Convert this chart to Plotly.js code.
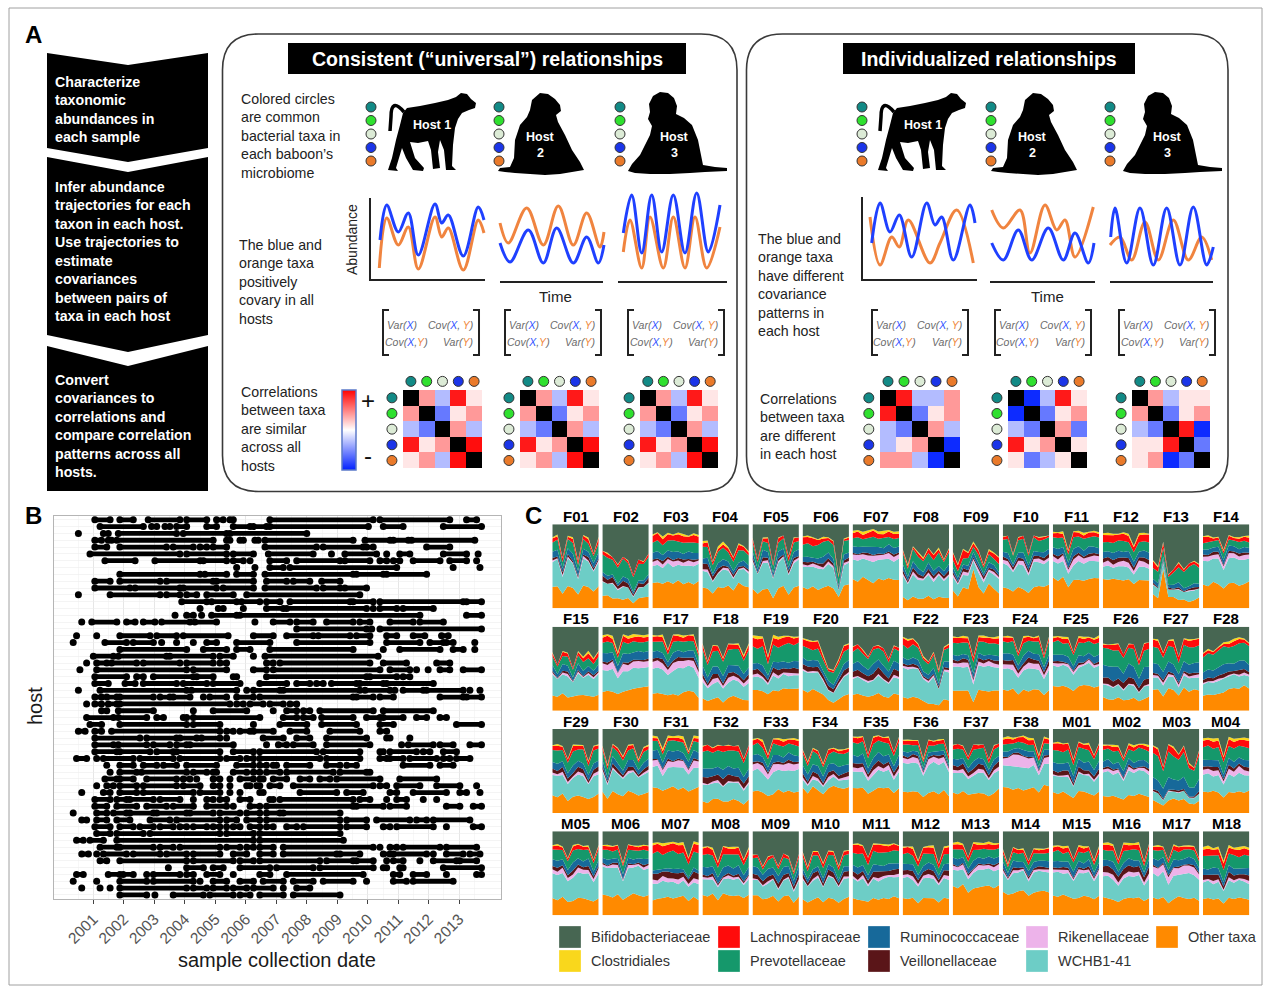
<!DOCTYPE html>
<html><head><meta charset="utf-8">
<script src="https://cdn.plot.ly/plotly-3.0.1.min.js"></script>
<style>body{margin:0;padding:0;background:#fff;}#chart{width:1263px;height:986px;}</style>
</head><body><div id="chart"></div>
<script>
const W = 1263, H = 986;
const FONT = '"Liberation Sans", Arial, Helvetica, sans-serif';
const fx = x => x / W;
const fy = y => 1 - y / H;

/* ================= PANEL B DATA: sampling runs per host (decimal years) ================= */
const yearTicks = [2001,2002,2003,2004,2005,2006,2007,2008,2009,2010,2011,2012,2013];
const hostRows = [
[[2001.05,2001.55],[2001.87,2002.31],[2002.80,2003.84],[2004.06,2004.72],[2005.04,2005.26],[2005.48,2005.59],[2006.79,2010.18],[2010.40,2012.69],[2013.24,2013.57]],
[[2001.22,2002.64],[2002.91,2003.08],[2003.35,2003.51],[2003.73,2004.06],[2004.72,2005.04],[2005.59,2006.14],[2006.25,2006.68],[2006.79,2010.02],[2010.51,2011.16],[2012.48,2013.73]],
[[2000.51,2000.51],[2001.33,2001.49],[2001.82,2003.73],[2003.95,2005.37],[2005.48,2008.0]],
[[2001.05,2001.27],[2001.49,2001.60],[2001.77,2004.93],[2005.37,2005.48],[2005.81,2005.92],[2006.30,2006.41],[2006.63,2009.52],[2009.91,2010.73],[2010.84,2011.33],[2011.44,2013.51]],
[[2001.05,2001.44],[2001.87,2003.40],[2003.62,2004.28],[2004.50,2004.72],[2004.93,2005.37],[2006.63,2008.32],[2008.54,2009.85],[2009.96,2010.18],[2011.93,2012.69]],
[[2000.89,2003.84],[2004.06,2005.37],[2005.59,2006.25],[2006.74,2008.21],[2008.81,2008.81],[2009.25,2010.29],[2010.62,2010.62],[2011.05,2011.38],[2012.48,2013.24],[2013.62,2013.62]],
[[2001.38,2002.37],[2003.02,2004.50],[2004.61,2005.37],[2005.59,2005.92],[2006.14,2006.14],[2006.79,2007.34],[2007.67,2009.09],[2009.25,2010.07],[2010.40,2010.62],[2010.84,2011.05],[2011.49,2012.37],[2012.69,2013.24],[2013.57,2013.57]],
[[2005.70,2005.70],[2006.30,2006.30],[2006.79,2007.23],[2007.45,2010.95],[2012.80,2012.80],[2013.68,2013.68]],
[[2001.87,2004.50],[2004.66,2005.37],[2005.70,2006.25],[2006.63,2009.52],[2009.63,2010.51],[2010.62,2011.93]],
[[2001.05,2001.55],[2001.87,2003.19],[2003.40,2004.93],[2005.04,2006.25],[2006.68,2007.34],[2007.56,2008.10],[2008.49,2009.09]],
[[2001.05,2002.20],[2002.37,2003.84],[2003.95,2005.04],[2005.26,2006.25],[2006.63,2008.32],[2008.54,2009.09],[2009.25,2009.96]],
[[2000.51,2000.51],[2001.55,2003.19],[2003.40,2003.84],[2004.06,2004.39],[2004.72,2005.59],[2006.03,2009.74]],
[[2003.90,2004.72],[2004.88,2005.70],[2005.86,2006.46],[2006.68,2007.12],[2007.45,2009.42],[2009.52,2010.18],[2010.40,2013.13],[2013.24,2013.73]],
[[2004.50,2004.50],[2005.10,2005.26],[2005.92,2005.92],[2006.68,2007.23],[2007.34,2009.96],[2010.18,2010.18],[2010.40,2010.95],[2011.16,2012.15]],
[[2003.68,2003.68],[2004.06,2004.28],[2004.55,2004.55],[2004.88,2005.70],[2005.81,2011.71],[2013.24,2013.73]],
[[2000.62,2000.62],[2000.95,2001.77],[2002.09,2002.37],[2002.64,2003.02],[2003.24,2004.17],[2004.33,2005.04],[2006.30,2006.30],[2006.90,2007.45],[2007.67,2008.21],[2008.65,2009.52],[2009.74,2010.07],[2010.73,2011.49],[2011.71,2012.48]],
[[2007.67,2009.96],[2010.13,2010.13],[2010.40,2013.73]],
[[2000.45,2000.45],[2001.11,2001.11],[2001.87,2002.86],[2003.08,2003.73],[2003.95,2005.42],[2006.25,2006.90],[2007.34,2008.21],[2008.38,2009.42],[2009.63,2010.07],[2010.62,2010.95],[2011.49,2011.87],[2012.42,2012.64]],
[[2000.34,2000.34],[2001.38,2002.09],[2002.31,2002.97],[2003.24,2003.24],[2003.73,2003.73],[2004.28,2004.28],[2004.72,2005.04],[2005.70,2006.79],[2007.67,2010.07],[2010.62,2011.71],[2012.04,2012.48],[2012.58,2012.80],[2013.51,2013.51]],
[[2001.87,2004.06],[2004.61,2005.37],[2005.70,2006.14],[2006.79,2009.52],[2010.51,2010.51],[2011.05,2012.37],[2012.80,2013.13],[2013.51,2013.51]],
[[2001.0,2001.66],[2001.82,2003.40],[2003.51,2004.93],[2005.15,2005.59],[2006.25,2006.25],[2006.63,2010.34]],
[[2000.78,2000.78],[2001.11,2001.44],[2001.60,2002.42],[2002.64,2003.84],[2004.06,2004.93],[2005.15,2005.37],[2006.68,2006.90],[2007.12,2010.07],[2010.51,2011.27],[2012.26,2012.69]],
[[2000.56,2000.56],[2001.11,2004.06],[2004.28,2005.37],[2006.25,2006.68],[2006.90,2010.40],[2010.73,2011.38],[2011.60,2011.60],[2011.98,2011.98],[2012.37,2012.69],[2013.13,2013.73]],
[[2001.05,2002.09],[2002.42,2002.64],[2002.97,2004.28],[2004.39,2004.93],[2005.59,2005.70],[2006.68,2009.96],[2010.07,2010.95],[2011.16,2011.38]],
[[2001.05,2001.49],[2002.04,2002.37],[2002.64,2003.73],[2003.95,2004.72],[2004.93,2005.81],[2006.46,2007.34],[2007.67,2008.10],[2008.32,2008.54],[2008.81,2009.63],[2009.74,2010.51],[2010.62,2012.15]],
[[2000.51,2000.51],[2001.22,2004.06],[2004.22,2005.70],[2006.03,2006.03],[2006.25,2007.12],[2007.23,2009.74],[2009.91,2010.73],[2010.89,2010.89],[2011.16,2011.82],[2011.93,2013.13],[2013.35,2013.35],[2013.68,2013.68]],
[[2001.05,2001.27],[2001.44,2001.77],[2001.87,2002.97],[2003.19,2003.51],[2003.62,2004.17],[2004.61,2004.61],[2004.82,2005.37],[2005.70,2006.25],[2006.46,2009.52],[2009.63,2010.18],[2010.40,2010.84],[2012.37,2013.13],[2013.24,2013.73]],
[[2000.78,2000.78],[2001.05,2001.27],[2001.49,2001.77],[2001.87,2005.48],[2005.70,2005.92],[2006.14,2006.57],[2006.79,2007.23],[2007.45,2007.67]],
[[2001.27,2001.44],[2001.82,2002.97],[2004.28,2004.28],[2004.93,2006.03],[2006.90,2006.90],[2007.34,2007.67],[2007.89,2008.10],[2008.43,2010.18],[2010.51,2012.15]],
[[2000.78,2001.66],[2001.82,2002.75],[2003.08,2003.30],[2003.95,2004.06],[2004.28,2006.46],[2007.23,2007.67],[2007.89,2008.21],[2008.49,2009.52],[2009.96,2010.40],[2010.51,2011.16],[2011.60,2011.93],[2012.37,2012.58]],
[[2000.89,2001.27],[2001.87,2004.06],[2004.28,2005.15],[2006.25,2006.25],[2007.12,2008.0],[2008.49,2009.63],[2010.40,2010.84],[2012.91,2013.73]],
[[2000.51,2000.73],[2001.05,2001.27],[2001.60,2005.15],[2005.37,2005.59],[2005.81,2006.14],[2006.25,2006.90],[2007.45,2008.0],[2008.76,2009.74],[2010.40,2010.62]],
[[2001.05,2002.53],[2002.75,2003.73],[2003.84,2004.39],[2004.55,2005.15],[2005.37,2005.37],[2006.57,2007.23],[2007.67,2008.10],[2008.65,2009.96],[2010.62,2010.73],[2011.38,2011.38]],
[[2001.05,2001.66],[2001.82,2002.75],[2002.97,2003.51],[2003.73,2004.06],[2004.17,2005.59],[2006.68,2006.68],[2007.07,2007.34],[2007.56,2008.21],[2008.65,2010.07],[2011.11,2011.11],[2011.33,2012.15],[2012.37,2012.80],[2013.35,2013.73]],
[[2001.05,2001.77],[2001.87,2002.86],[2003.08,2003.62],[2003.73,2005.15],[2005.59,2006.25],[2006.46,2008.32],[2008.54,2009.74],[2010.40,2010.51],[2010.73,2011.60],[2011.82,2012.04],[2012.48,2012.91]],
[[2000.45,2000.78],[2001.11,2001.11],[2001.33,2002.31],[2002.53,2003.62],[2003.84,2005.15],[2005.37,2005.81],[2006.03,2006.25],[2006.46,2008.43],[2008.65,2009.74],[2010.40,2010.62],[2010.73,2011.16],[2011.38,2012.26],[2012.48,2012.69],[2012.91,2013.35]],
[[2001.44,2001.44],[2001.87,2002.31],[2002.64,2003.08],[2003.30,2003.73],[2004.06,2005.04],[2005.70,2006.25],[2006.46,2006.68],[2006.90,2007.01],[2007.34,2008.10],[2008.65,2009.09],[2009.31,2009.63],[2011.16,2012.04],[2012.37,2012.80]],
[[2001.55,2001.55],[2001.87,2002.42],[2002.58,2004.06],[2004.28,2004.72],[2004.93,2005.04],[2005.59,2006.03],[2006.25,2006.46],[2006.68,2007.12],[2007.34,2008.87],[2009.09,2009.96],[2010.07,2010.07]],
[[2001.38,2001.77],[2001.87,2002.31],[2002.75,2003.73],[2003.95,2004.17],[2004.39,2004.39],[2004.93,2005.15],[2005.48,2005.48],[2005.81,2006.25],[2006.46,2006.57],[2006.90,2007.34],[2007.78,2008.10],[2008.43,2008.76],[2008.98,2010.40],[2011.05,2012.26]],
[[2001.11,2001.11],[2001.44,2001.66],[2001.87,2002.42],[2002.64,2003.73],[2003.95,2004.50],[2004.93,2005.15],[2005.48,2005.48],[2006.03,2006.14],[2006.36,2006.46],[2006.79,2007.12],[2007.56,2010.18],[2010.40,2010.62],[2010.95,2011.71],[2012.26,2013.02],[2013.57,2013.57]],
[[2000.62,2000.62],[2001.33,2001.55],[2001.87,2002.42],[2002.64,2004.28],[2004.50,2005.15],[2005.48,2005.48],[2005.81,2005.81],[2006.46,2006.57],[2007.78,2008.98],[2009.31,2009.85],[2010.73,2010.95],[2011.49,2012.58],[2013.02,2013.24],[2013.68,2013.68]],
[[2001.05,2001.55],[2001.77,2002.09],[2002.20,2002.97],[2003.19,2003.84],[2004.28,2004.28],[2004.72,2004.93],[2005.15,2005.37],[2005.81,2006.14],[2006.79,2006.90],[2007.12,2009.52],[2009.74,2010.07],[2010.62,2010.62],[2010.95,2011.27],[2011.82,2011.82],[2012.26,2012.26]],
[[2001.05,2001.44],[2001.77,2002.42],[2002.75,2003.40],[2003.62,2004.28],[2004.72,2005.37],[2005.59,2005.59],[2006.14,2006.46],[2006.68,2009.52],[2009.63,2010.51],[2010.73,2011.27],[2012.58,2013.02],[2013.46,2013.73]],
[[2000.34,2000.34],[2001.11,2001.44],[2001.66,2002.09],[2002.20,2002.97],[2003.08,2004.06],[2004.17,2004.93],[2005.15,2005.81],[2006.03,2006.46],[2006.68,2007.12],[2007.23,2009.09]],
[[2000.62,2000.78],[2001.11,2001.44],[2001.77,2002.20],[2002.86,2003.51],[2003.73,2005.15],[2005.37,2005.70],[2006.03,2006.46],[2006.68,2009.09],[2009.31,2009.96],[2010.29,2011.38],[2011.60,2011.93],[2012.15,2013.35]],
[[2001.05,2001.55],[2001.87,2002.31],[2002.53,2002.97],[2003.19,2003.62],[2003.84,2004.06],[2004.28,2004.72],[2004.93,2005.15],[2005.37,2005.37],[2005.59,2005.81],[2006.14,2006.46],[2006.68,2006.90],[2007.34,2007.67],[2007.89,2009.09],[2009.31,2009.96],[2010.51,2010.73],[2010.95,2012.15],[2012.58,2012.58],[2013.46,2013.73]],
[[2001.11,2001.55],[2001.77,2002.64],[2002.86,2005.15],[2005.37,2006.25],[2006.46,2009.09]],
[[2000.45,2000.67],[2000.89,2001.33],[2001.77,2006.25],[2006.46,2009.20]],
[[2001.22,2001.77],[2001.87,2002.97],[2003.19,2003.62],[2003.84,2005.15],[2005.37,2005.81],[2006.03,2006.25],[2006.46,2006.90],[2007.23,2010.18],[2010.40,2010.40],[2010.73,2010.95],[2011.16,2012.37],[2012.58,2013.57]],
[[2000.62,2000.84],[2001.11,2001.11],[2001.33,2002.09],[2002.31,2003.19],[2003.40,2004.06],[2004.28,2005.15],[2005.59,2006.03],[2006.46,2006.90],[2007.23,2008.98],[2009.09,2009.74],[2010.51,2010.73],[2010.84,2011.93],[2012.15,2012.15],[2012.58,2013.13],[2013.35,2013.68]],
[[2001.22,2001.44],[2001.87,2004.06],[2004.28,2005.59],[2005.81,2006.25],[2006.46,2008.43],[2008.65,2009.52],[2009.63,2010.18],[2010.62,2010.62],[2010.84,2011.16],[2011.71,2011.71],[2012.15,2012.91],[2013.02,2013.57]],
[[2003.46,2003.46],[2004.06,2004.61],[2004.93,2005.26],[2005.81,2006.79],[2007.01,2008.21],[2008.43,2010.18],[2010.51,2010.62],[2011.05,2011.16],[2012.48,2013.73]],
[[2000.45,2000.67],[2001.49,2001.87],[2001.98,2002.31],[2002.75,2002.75],[2002.97,2003.84],[2004.06,2004.28],[2004.72,2005.15],[2005.59,2005.59],[2006.46,2006.79],[2007.34,2009.85],[2010.84,2011.05],[2011.49,2011.93],[2012.58,2012.58],[2013.57,2013.73]],
[[2000.34,2000.34],[2001.11,2001.11],[2001.87,2002.75],[2002.97,2004.28],[2004.50,2004.50],[2004.93,2005.37],[2005.81,2006.25],[2006.57,2007.23],[2007.56,2008.21],[2008.54,2009.52],[2009.96,2009.96],[2010.84,2011.27],[2011.49,2012.80]],
[[2000.62,2000.62],[2001.22,2001.22],[2001.55,2001.55],[2001.87,2004.06],[2004.28,2004.72],[2004.93,2005.37],[2005.59,2006.03],[2006.25,2006.90],[2007.23,2007.23],[2007.67,2008.10]],
[[2001.87,2002.75],[2003.02,2003.02],[2003.62,2004.61],[2004.82,2005.59],[2005.81,2006.14],[2006.46,2007.23],[2007.56,2009.09]]
];

/* ================= PANEL C DATA: relative abundances (10 samples per host) ================= */
const hostNames = ['F01','F02','F03','F04','F05','F06','F07','F08','F09','F10','F11','F12','F13','F14',
'F15','F16','F17','F18','F19','F20','F21','F22','F23','F24','F25','F26','F27','F28',
'F29','F30','F31','F32','F33','F34','F35','F36','F37','F38','M01','M02','M03','M04',
'M05','M06','M07','M08','M09','M10','M11','M12','M13','M14','M15','M16','M17','M18'];
const sampleIndex = [0,1,2,3,4,5,6,7,8,9];
const taxaNames = ['Other taxa','WCHB1-41','Rikenellaceae','Veillonellaceae','Ruminococcaceae','Prevotellaceae','Lachnospiraceae','Clostridiales','Bifidobacteriaceae'];
const taxaColors = ['#ff8a00','#6dcdc6','#edb3ea','#5a1518','#17699a','#15986b','#ff0b0b','#f9d71c','#476652'];

const otherTaxa = [
[24,26,22,27,25,23,28,24,26,25],[14,16,12,15,10,13,8,12,15,14],[30,33,28,35,31,34,30,32,29,33],[25,22,28,24,26,30,27,33,29,31],
[22,25,20,24,18,23,26,21,24,27],[26,24,27,22,25,28,24,20,27,29],[36,33,38,35,32,37,34,38,35,33],[14,12,15,11,13,16,12,14,15,13],
[20,18,24,22,45,25,20,28,22,18],[26,24,28,27,25,24,26,28,27,30],[38,34,36,33,37,35,32,36,38,34],[36,34,38,33,35,37,34,36,33,35],
[16,12,45,18,14,10,12,8,10,14],[30,28,32,29,31,33,30,28,31,34],
[18,22,20,16,24,19,21,17,22,20],[22,24,23,26,25,24,27,28,30,29],[20,22,19,24,21,18,23,25,22,20],[15,17,14,18,13,16,20,15,17,14],
[24,26,22,28,25,23,27,24,26,25],[22,20,24,21,23,18,12,14,16,18],[20,22,18,21,19,23,17,20,22,19],[16,14,18,15,13,12,8,10,14,12],
[25,27,24,26,14,28,25,24,27,26],[26,24,28,25,27,23,26,28,25,24],[30,28,32,27,31,29,33,30,28,31],[16,14,12,17,15,13,16,14,15,18],
[26,24,22,27,25,23,28,24,26,25],[20,22,18,21,23,26,28,25,30,27],
[22,20,24,18,21,23,19,22,20,24],[26,24,27,22,25,28,24,26,23,27],[32,30,34,31,33,29,32,34,30,33],[14,12,16,18,15,14,17,15,13,16],
[26,28,25,27,24,29,26,28,25,27],[32,30,34,28,33,31,35,32,30,33],[30,32,29,31,28,33,30,32,31,29],[26,24,28,25,27,23,26,24,28,25],
[26,24,28,30,25,27,24,28,26,32],[30,32,29,33,31,30,28,32,34,31],[26,24,27,23,25,28,26,24,27,25],[22,20,23,19,21,24,22,26,23,21],
[16,14,12,15,18,20,17,14,16,15],[26,24,28,25,23,27,25,26,24,28],
[21,19,22,20,18,23,21,19,22,20],[26,24,22,27,25,23,28,24,22,26],[18,20,22,24,21,23,26,22,24,20],[26,24,28,25,30,27,24,26,28,25],
[26,24,28,22,25,20,24,26,22,25],[20,22,19,24,21,23,20,22,21,24],[22,20,18,21,23,19,22,20,24,21],[22,20,23,19,21,24,22,20,23,21],
[36,34,38,35,33,37,35,38,34,36],[30,32,29,31,33,30,28,32,31,30],[26,24,28,25,27,23,26,24,28,25],[22,20,18,21,19,23,20,22,24,21],
[22,20,23,19,21,24,22,20,23,21],[20,22,19,21,18,23,20,22,21,19]];

const wchb141 = [
[28,32,25,34,30,26,33,29,31,27],[16,14,18,12,15,13,10,12,14,16],[20,22,18,24,21,19,23,20,22,21],[20,18,22,15,24,20,18,16,22,20],
[30,34,28,32,35,29,33,31,28,32],[25,28,24,26,22,27,25,12,24,26],[24,26,22,25,27,23,26,24,22,25],[26,24,28,22,25,27,23,26,24,28],
[15,18,14,16,10,17,15,14,16,18],[30,28,33,29,31,27,32,30,28,31],[20,22,18,21,19,23,20,22,21,19],[15,17,14,16,18,15,13,17,16,15],
[10,12,8,11,9,12,10,14,12,11],[30,32,28,31,29,33,30,32,31,29],
[25,28,22,26,24,27,23,25,28,26],[26,24,28,25,27,22,26,24,25,23],[30,32,28,31,29,33,30,32,28,31],[20,22,18,21,23,19,22,20,21,23],
[15,17,14,16,18,15,17,14,16,15],[20,22,18,21,19,16,14,18,20,22],[20,22,18,21,19,23,20,22,21,19],[35,33,37,34,30,36,32,30,35,33],
[30,32,28,31,29,33,30,32,31,29],[25,27,23,26,24,28,25,27,26,24],[25,23,27,24,26,22,25,27,24,26],[15,17,13,16,14,18,15,13,16,14],
[15,13,17,14,16,12,15,17,14,16],[15,17,14,16,18,15,17,14,12,15],
[25,27,23,26,24,28,25,23,26,24],[25,23,27,24,26,22,25,27,24,26],[25,27,23,26,24,28,25,27,26,24],[20,22,18,21,19,23,20,22,21,19],
[25,27,23,26,28,24,27,25,26,28],[10,12,9,11,13,10,12,9,11,10],[20,22,18,21,19,23,20,22,21,19],[35,33,37,34,36,32,35,37,34,36],
[25,27,23,26,24,28,25,27,26,24],[25,27,30,28,32,26,24,27,25,26],[20,22,18,21,19,23,20,22,21,19],[30,32,28,31,29,33,30,32,31,29],
[10,12,8,11,9,12,10,8,11,9],[20,22,18,21,19,23,20,22,21,19],
[30,32,28,31,29,33,30,32,31,29],[35,33,37,34,30,36,33,35,32,34],[20,18,22,19,21,17,20,22,19,21],[20,22,18,21,19,23,20,22,21,19],
[20,18,22,19,21,17,20,22,19,21],[25,27,23,26,24,28,25,27,26,24],[25,23,27,24,26,22,25,27,24,26],[25,27,23,26,24,28,25,27,26,24],
[20,22,18,21,19,23,20,22,21,19],[25,23,27,24,26,22,25,27,24,26],[30,32,28,31,29,33,30,32,31,29],[25,27,23,26,24,28,25,27,26,24],
[30,28,32,29,31,27,30,32,29,31],[20,22,18,21,19,23,20,22,21,19]];

const rikenellaceae = [
[2,1,3,2,1,2,3,1,2,2],[1,0,1,2,1,0,1,1,0,1],[5,6,4,5,7,5,4,6,5,4],[2,3,2,1,2,3,2,1,2,3],
[2,1,2,3,1,2,1,2,3,2],[3,2,4,3,2,3,2,1,3,2],[6,7,5,6,8,6,5,7,6,5],[3,2,4,3,2,3,4,2,3,2],
[3,2,4,3,2,3,4,2,3,2],[4,5,3,4,6,4,3,5,4,3],[6,5,7,6,8,7,6,5,7,6],[5,6,4,5,7,6,5,8,6,5],
[1,0,1,1,0,1,0,1,1,0],[5,6,4,5,6,7,5,4,6,5],
[2,1,2,3,1,2,1,2,3,2],[8,7,9,8,10,7,8,9,8,7],[8,9,7,8,10,8,9,7,8,9],[5,4,6,5,4,6,5,4,5,6],
[3,4,2,3,4,3,2,4,3,2],[2,1,2,1,2,1,1,2,1,2],[2,1,2,3,1,2,1,2,3,2],[2,3,2,1,2,3,2,1,2,3],
[5,4,6,5,7,5,4,6,5,4],[6,5,7,6,5,7,6,8,6,5],[3,4,2,3,4,3,2,4,3,2],[1,2,1,1,2,1,2,1,1,2],
[3,2,4,3,2,4,3,2,3,4],[2,1,2,3,1,2,1,2,3,2],
[3,2,4,3,2,4,3,2,3,4],[2,3,2,1,2,3,2,1,2,3],[8,7,9,8,6,9,8,7,9,8],[2,1,2,3,1,2,1,2,3,2],
[8,7,9,8,10,7,8,9,8,7],[3,2,4,3,2,4,3,2,3,4],[5,4,6,5,7,5,4,6,5,4],[6,5,7,6,5,7,6,8,6,5],
[4,3,5,4,3,5,4,3,4,5],[8,10,14,16,15,12,8,6,7,8],[2,1,2,3,1,2,1,2,3,2],[4,3,5,4,3,5,4,3,4,5],
[1,0,1,1,0,1,0,1,1,0],[6,5,7,6,5,7,6,8,6,5],
[5,4,6,5,4,6,5,4,5,6],[3,2,4,3,2,4,3,2,3,4],[5,4,6,5,4,6,5,4,5,6],[3,2,4,3,2,4,3,2,3,4],
[2,1,2,3,1,2,1,2,3,2],[2,1,2,3,1,2,1,2,3,2],[3,2,4,3,2,4,3,2,3,4],[4,3,5,4,3,5,4,3,4,5],
[5,4,6,5,4,6,5,4,5,6],[3,2,4,3,2,4,3,2,3,4],[4,3,5,4,3,5,4,3,4,5],[5,4,6,5,4,6,5,4,5,6],
[8,10,9,12,10,8,11,9,10,8],[3,2,4,3,2,4,3,2,3,4]];

const veillonellaceae = [
[3,2,4,3,2,3,2,4,3,2],[6,5,7,4,6,5,3,5,4,6],[3,2,4,3,2,3,4,2,3,2],[7,6,8,5,3,2,4,3,2,3],
[3,2,4,3,2,3,2,4,3,2],[3,4,2,3,5,4,3,2,3,4],[2,1,2,3,1,2,1,2,3,2],[4,3,5,4,3,5,4,3,4,5],
[3,2,4,3,2,3,4,2,3,2],[4,3,5,4,3,5,4,3,4,5],[3,4,2,3,4,3,2,4,3,2],[5,4,6,5,4,6,5,4,5,6],
[2,1,2,3,1,2,1,2,3,2],[3,2,4,3,2,3,2,4,3,2],
[2,1,2,3,1,2,1,2,3,2],[2,3,2,1,2,3,2,1,2,3],[4,3,5,4,3,5,4,3,4,5],[5,4,6,5,4,6,5,4,5,6],
[5,6,4,5,6,7,5,4,6,5],[5,6,4,5,6,7,5,4,6,5],[7,8,6,7,8,9,7,6,8,7],[3,2,4,3,2,3,2,4,3,2],
[4,3,5,4,3,5,4,3,4,5],[5,4,6,5,4,6,5,4,5,6],[2,3,2,1,2,3,2,1,2,3],[7,8,6,7,9,8,7,6,8,7],
[3,2,4,3,2,3,2,4,3,2],[4,5,3,4,5,4,3,5,4,3],
[5,4,6,5,4,6,5,4,5,6],[4,3,5,4,3,5,4,3,4,5],[2,1,2,3,1,2,1,2,3,2],[7,8,6,7,9,8,7,6,8,7],
[3,2,4,3,2,3,2,4,3,2],[5,4,6,5,4,6,5,4,5,6],[5,6,4,5,6,7,5,4,6,5],[3,2,4,3,2,3,2,4,3,2],
[6,5,7,6,5,7,6,5,6,7],[2,1,2,3,1,2,1,2,3,2],[5,4,6,5,4,6,5,4,5,6],[2,3,2,1,2,3,2,1,2,3],
[2,3,2,1,2,3,2,1,2,3],[4,3,5,4,3,5,4,3,4,5],
[4,5,3,4,5,4,3,5,4,3],[2,1,2,3,1,2,1,2,3,2],[7,8,6,9,7,8,6,7,9,8],[3,2,4,3,2,3,2,4,3,2],
[6,5,7,6,5,7,6,5,6,7],[6,5,7,6,5,7,6,5,6,7],[6,7,5,6,7,8,6,5,7,6],[6,5,7,6,5,7,6,5,6,7],
[2,1,2,3,1,2,1,2,3,2],[3,2,4,3,2,3,2,4,3,2],[3,2,4,3,2,3,2,4,3,2],[7,8,6,9,7,8,6,7,9,8],
[2,1,2,3,1,2,1,2,3,2],[6,5,7,6,5,7,6,5,6,7]];

const ruminococcaceae = [
[7,8,6,7,9,8,7,6,8,7],[4,5,3,4,5,6,4,3,5,4],[8,9,7,8,10,8,7,9,8,7],[6,7,5,6,8,7,6,5,7,6],
[7,6,8,7,6,8,7,6,7,8],[6,7,5,6,8,7,6,5,7,6],[8,9,7,8,10,8,7,9,8,7],[7,6,8,7,6,8,7,6,7,8],
[5,6,4,5,6,5,4,6,5,4],[6,7,5,6,8,7,6,5,7,6],[8,9,7,8,10,8,7,9,8,7],[8,7,9,8,7,9,8,7,8,9],
[4,5,3,4,5,6,4,3,5,4],[6,7,5,6,8,7,6,5,7,6],
[7,6,8,7,6,8,7,6,7,8],[10,11,9,10,12,10,9,11,10,9],[8,9,7,8,10,8,7,9,8,7],[10,11,9,10,12,10,9,11,10,9],
[8,7,9,8,7,9,8,7,8,9],[7,6,8,7,6,8,7,6,7,8],[10,11,9,10,12,10,9,11,10,9],[7,6,8,7,6,8,7,6,7,8],
[6,7,5,6,8,7,6,5,7,6],[8,9,7,8,10,8,7,9,8,7],[8,7,9,8,7,9,8,7,8,9],[15,14,16,15,13,16,15,14,16,15],
[12,11,13,12,11,13,12,11,12,13],[10,11,9,10,12,10,9,11,10,9],
[8,9,7,8,10,8,7,9,8,7],[8,7,9,8,7,9,8,7,8,9],[10,11,9,10,12,10,9,11,10,9],[10,11,9,10,12,10,9,11,10,9],
[8,9,7,8,10,8,7,9,8,7],[10,11,9,10,12,10,9,11,10,9],[10,9,11,10,9,11,10,9,10,11],[5,6,4,5,6,5,4,6,5,4],
[8,9,7,8,10,8,7,9,8,7],[6,7,5,6,8,7,6,5,7,6],[10,11,9,10,12,10,9,11,10,9],[8,9,7,8,10,8,7,9,8,7],
[15,14,16,15,13,16,15,14,16,15],[8,7,9,8,7,9,8,7,8,9],
[8,9,7,8,10,8,7,9,8,7],[6,7,5,6,8,7,6,5,7,6],[4,5,3,4,5,6,4,3,5,4],[10,11,9,10,12,10,9,11,10,9],
[10,9,11,10,9,11,10,9,10,11],[6,7,5,6,8,7,6,5,7,6],[8,9,7,8,10,8,7,9,8,7],[8,7,9,8,7,9,8,7,8,9],
[8,9,7,8,10,8,7,9,8,7],[8,7,9,8,7,9,8,7,8,9],[8,9,7,8,10,8,7,9,8,7],[8,7,9,8,7,9,8,7,8,9],
[8,9,7,8,10,8,7,9,8,7],[8,7,9,8,7,9,8,7,8,9]];

const prevotellaceae = [
[10,12,9,11,13,10,12,9,11,10],[20,22,18,24,21,19,23,20,22,21],[12,14,11,13,15,12,14,11,13,12],[14,12,16,13,15,12,14,16,13,15],
[10,12,9,11,13,10,12,9,11,10],[15,17,14,16,18,15,17,14,16,15],[10,12,9,11,13,10,12,9,11,10],[14,12,16,13,15,12,14,16,13,15],
[8,10,7,9,6,10,8,9,7,10],[15,17,14,16,18,15,17,14,16,15],[12,14,11,13,15,12,14,11,13,12],[12,11,13,12,14,11,13,12,11,13],
[12,14,10,13,15,18,22,25,24,20],[8,9,7,8,10,8,7,9,8,7],
[10,12,9,11,13,10,12,9,11,10],[12,14,11,13,15,12,14,11,13,12],[12,11,13,12,14,11,13,12,11,13],[20,22,18,21,23,19,22,20,21,23],
[20,18,22,19,21,17,20,22,19,21],[12,14,11,13,15,16,18,14,13,12],[15,17,14,16,18,15,17,14,16,15],[15,13,17,14,16,18,15,20,14,16],
[15,17,14,16,18,15,17,14,16,15],[15,13,17,14,16,12,15,17,14,16],[15,17,14,16,18,15,17,14,16,15],[20,22,18,21,23,19,22,20,21,23],
[20,18,22,19,21,17,20,22,19,21],[20,22,18,21,23,19,22,20,21,23],
[15,17,14,16,18,15,17,14,16,15],[12,14,11,13,15,12,14,11,13,12],[12,11,13,12,14,11,13,12,11,13],[20,22,18,21,23,19,22,20,21,23],
[12,14,11,13,15,12,14,11,13,12],[15,13,17,14,16,12,15,17,14,16],[15,17,14,16,18,15,17,14,16,15],[8,9,7,8,10,8,7,9,8,7],
[12,14,11,13,15,12,14,11,13,12],[8,9,7,8,10,8,7,9,8,7],[15,17,14,16,18,15,17,14,16,15],[15,13,17,14,16,12,15,17,14,16],
[30,32,28,31,29,33,30,28,31,29],[15,17,14,16,18,15,17,14,16,15],
[12,14,11,13,15,12,14,11,13,12],[10,12,9,11,13,10,12,9,11,10],[20,22,18,21,23,19,22,20,21,23],[15,17,14,16,18,15,17,14,16,15],
[10,12,9,11,13,10,12,9,11,10],[15,13,17,14,16,12,15,17,14,16],[15,17,14,16,18,15,17,14,16,15],[12,14,11,13,15,12,14,11,13,12],
[10,12,9,11,13,10,12,9,11,10],[10,9,11,10,12,9,11,10,9,11],[12,14,11,13,15,12,14,11,13,12],[12,11,13,12,14,11,13,12,11,13],
[10,12,9,11,13,10,12,9,11,10],[15,17,14,16,18,15,17,14,16,15]];

const lachnospiraceae = [
[5,4,6,3,5,7,4,5,3,6],[4,5,3,4,2,3,4,5,3,4],[8,9,7,8,6,9,8,7,9,8],[4,5,6,3,4,5,6,7,5,4],
[4,5,3,6,4,5,3,7,5,4],[9,8,10,6,4,3,4,3,2,3],[6,7,5,6,8,6,5,7,6,5],[3,4,2,5,3,6,7,4,3,4],
[8,9,10,6,4,5,3,4,6,8],[3,4,2,3,4,3,2,4,3,2],[5,6,4,5,7,5,4,6,5,4],[9,8,10,7,9,8,7,9,8,10],
[8,5,6,3,4,5,3,4,3,4],[8,7,4,3,4,5,3,4,5,6],
[4,3,5,4,3,4,5,6,7,6],[6,7,5,6,8,6,5,7,6,5],[6,7,5,6,8,6,5,7,6,5],[6,5,7,6,5,7,6,5,6,7],
[10,12,9,11,8,10,9,7,8,6],[7,8,9,8,6,4,3,4,6,5],[6,5,4,3,4,3,4,5,3,4],[8,9,7,4,3,4,3,4,3,4],
[6,7,5,6,8,6,5,7,6,8],[5,6,4,5,7,5,4,6,5,4],[5,4,6,5,4,6,5,4,5,6],[4,5,6,8,5,4,6,7,9,8],
[9,8,7,6,8,9,7,8,9,8],[5,4,3,4,3,4,6,5,4,3],
[5,6,4,5,7,5,4,6,5,4],[4,5,3,4,5,6,4,3,5,4],[4,3,5,4,3,5,4,3,4,5],[6,7,5,6,8,6,5,7,6,5],
[6,5,7,6,5,7,6,5,6,7],[4,5,3,4,5,6,4,3,5,4],[6,7,5,6,8,6,5,7,6,5],[5,4,6,5,4,6,5,4,5,6],
[5,6,4,5,7,5,4,6,5,4],[6,7,5,6,8,6,5,7,6,5],[8,9,10,7,8,6,5,7,6,5],[5,4,6,5,4,6,5,4,5,6],
[8,9,7,8,10,8,7,6,5,6],[8,7,9,8,7,9,8,7,8,9],
[4,5,3,4,5,6,4,3,5,4],[5,4,6,5,4,6,5,4,5,6],[10,9,11,10,9,11,10,9,10,11],[8,9,7,8,10,8,7,9,8,7],
[4,3,5,4,3,4,5,3,4,5],[5,6,4,5,7,5,4,6,5,4],[10,12,9,11,8,10,9,7,8,6],[8,7,9,8,7,9,8,7,8,9],
[6,7,5,6,8,6,5,7,6,5],[5,4,6,5,4,6,5,4,5,6],[6,5,7,6,5,7,6,5,6,7],[6,7,5,6,8,6,5,7,6,5],
[4,5,3,4,5,6,4,3,5,4],[8,9,7,8,10,8,7,9,8,7]];

const clostridiales = [
[1,2,1,1,2,1,1,2,1,1],[0,1,0,1,0,1,0,0,1,0],[2,1,3,2,1,2,3,1,2,2],[3,2,1,3,4,2,1,2,1,2],
[1,0,1,1,0,1,0,1,1,0],[1,2,1,1,2,1,1,2,1,1],[3,2,4,3,2,3,4,2,3,3],[1,2,1,1,2,1,1,2,1,1],
[1,2,1,1,2,1,1,2,1,1],[1,0,1,1,0,1,0,1,1,0],[2,1,3,2,1,2,3,1,2,2],[2,3,2,1,2,3,2,3,2,1],
[1,2,1,1,0,1,1,0,1,1],[1,2,1,1,2,1,1,2,1,3],
[1,0,1,1,0,1,2,3,2,1],[3,2,4,3,2,3,4,2,3,3],[2,1,3,2,1,2,3,1,2,2],[1,2,1,1,2,1,1,2,3,2],
[3,4,2,3,4,3,2,1,2,1],[1,2,1,1,2,1,1,2,1,1],[1,0,1,1,0,1,0,1,1,0],[1,2,1,1,2,1,1,2,1,1],
[2,1,3,2,1,2,3,1,2,3],[1,2,1,1,2,1,1,2,1,1],[2,1,3,2,1,2,3,1,2,3],[1,0,1,1,0,1,0,1,1,0],
[1,2,1,1,2,1,1,2,1,1],[1,2,1,1,2,3,3,2,1,1],
[1,2,1,1,2,1,1,2,1,1],[1,2,1,1,2,1,1,2,1,2],[3,2,4,3,2,3,4,2,3,3],[1,0,1,1,0,1,0,1,1,0],
[2,1,3,2,1,2,3,1,2,2],[1,2,1,1,2,1,1,2,1,1],[1,2,1,1,2,1,1,2,1,1],[1,2,1,1,2,1,1,2,1,1],
[1,0,1,1,0,1,0,1,1,0],[2,3,2,1,2,3,2,3,2,1],[1,2,1,1,2,1,1,2,1,1],[2,1,3,2,1,2,3,1,2,3],
[1,2,1,1,2,1,1,2,1,1],[3,2,4,3,2,3,4,2,3,3],
[1,2,1,1,2,1,1,2,1,1],[1,2,1,1,2,1,1,2,1,1],[3,2,4,3,2,3,4,2,3,3],[2,1,3,2,1,2,3,1,2,2],
[1,0,1,1,0,1,0,1,1,0],[1,2,1,1,2,1,1,2,1,1],[1,2,1,1,2,1,1,2,1,1],[2,1,3,2,1,2,3,1,2,2],
[2,3,2,1,2,3,2,3,2,1],[1,2,1,1,2,1,1,2,1,1],[2,1,3,2,1,2,3,1,2,2],[2,3,2,1,2,3,2,3,2,1],
[1,2,1,1,2,1,1,2,1,1],[3,4,2,3,4,3,2,4,3,3]];

const bifidobacteriaceae = [
[15,12,50,14,16,60,13,15,45,14],[30,35,40,60,38,45,80,42,50,35],[12,10,14,11,13,10,12,14,11,13],[20,18,70,25,22,30,50,24,28,40],
[15,60,14,16,70,15,13,50,15,16],[15,14,16,18,15,16,20,90,17,15],[8,7,9,8,6,9,8,7,9,8],[30,60,28,32,45,30,40,28,50,30],
[30,60,28,32,20,30,55,28,32,40],[15,14,50,16,15,45,14,16,15,14],[9,10,8,40,9,8,10,9,8,9],[11,10,12,11,10,12,30,11,10,12],
[40,50,20,80,55,45,60,50,45,50],[15,14,16,15,40,14,15,16,15,14],
[30,60,28,32,70,30,40,28,50,30],[10,9,11,40,10,11,9,10,11,9],[10,11,9,35,10,9,11,10,9,40],[20,60,22,25,50,21,23,20,45,22],
[10,12,11,50,10,12,11,10,12,11],[12,14,16,15,40,70,65,40,20,18],[25,23,27,45,25,24,26,50,24,25],[12,14,15,20,40,60,30,80,25,20],
[12,14,11,13,50,12,11,13,14,12],[12,11,13,40,12,11,13,12,45,11],[12,11,13,12,40,11,13,12,14,11],[20,22,19,21,40,20,22,50,21,20],
[15,14,40,16,15,45,14,16,15,14],[35,30,28,25,20,18,15,12,14,20],
[20,19,21,45,20,21,19,50,21,19],[20,60,18,22,40,20,18,45,22,20],[8,9,30,8,9,8,9,35,8,9],[20,19,21,20,22,19,21,20,45,19],
[12,11,13,40,12,11,13,12,11,13],[25,50,24,26,60,25,24,26,25,24],[9,10,8,40,9,8,10,9,35,9],[13,12,14,13,50,12,14,13,12,40],
[20,19,21,45,20,21,19,50,21,19],[10,9,11,10,9,11,10,40,9,11],[17,16,18,17,50,16,18,17,40,16],[20,19,21,20,45,19,21,20,19,21],
[20,25,60,18,22,40,20,50,70,25],[11,10,12,11,40,10,12,11,10,12],
[17,16,18,40,17,16,18,17,45,16],[17,16,18,17,50,16,18,17,16,18],[14,13,15,14,13,15,14,40,13,15],[20,19,21,50,20,21,19,20,45,19],
[30,28,60,32,30,50,28,32,70,30],[25,60,24,26,50,25,24,60,25,24],[16,15,17,40,16,15,17,16,15,17],[19,18,20,45,19,20,18,50,20,18],
[14,13,15,40,13,15,14,13,15,14],[22,50,21,23,22,45,21,23,22,21],[19,18,20,19,45,18,20,19,50,18],[14,13,15,45,13,15,14,13,50,14],
[18,17,19,45,17,19,18,17,19,40],[19,18,20,19,45,18,20,19,18,20]];

const taxaData = [otherTaxa, wchb141, rikenellaceae, veillonellaceae, ruminococcaceae, prevotellaceae, lachnospiraceae, clostridiales, bifidobacteriaceae];
const legendOrder = [8,7,6,5,4,3,2,1,0];

/* ================= PANEL A DATA ================= */
const circleColors = ['#128a86','#2fe02f','#dcebd6','#1b35e8','#ea7a2a'];
const corrUniversal = [
[1,0.4,-0.3,0.9,0.1],[0.4,1,-0.6,0.1,0.4],[-0.3,-0.6,1,0.4,-0.3],[0.9,0.1,0.4,1,0.95],[0.1,0.4,-0.3,0.95,1]];
const corrIndiv1 = [
[1,0.9,-0.3,-0.3,0.4],[0.9,1,-0.6,0.1,0.4],[-0.3,-0.6,1,0.4,-0.3],[-0.3,0.1,0.4,1,-0.95],[0.4,0.4,-0.3,-0.95,1]];
const corrIndiv2 = [
[1,-0.95,-0.3,0.9,0.1],[-0.95,1,-0.6,0.1,0.4],[-0.3,-0.6,1,0.4,-0.6],[0.9,0.1,0.4,1,0.1],[0.1,-0.6,-0.3,0.1,1]];
const corrIndiv3 = [
[1,0.4,-0.3,0.1,0.1],[0.4,1,-0.6,0.1,0.4],[-0.3,-0.6,1,0.9,-0.95],[0.1,0.1,0.9,1,-0.6],[0.1,0.4,-0.95,-0.6,1]];

// schematic abundance trajectories (arbitrary units)
const u1BlueT=[10,16.7,28.3,38.3,48.3,65,71.7,78.3,93.3,108.3,114], u1Blue=[50,85,58,77,35,86,67,75,34,83,70];
const u1OrangeT=[9.3,16.7,28.3,38.3,48.3,65,71.7,78.3,93.3,108.3,114], u1Orange=[22,72,45,63,21,73,53,62,20,70,57];
const u2BlueT=[5,15,33.3,48.3,61.7,78.3,91.7,103.3,109], u2Blue=[47,28,60,27,62,27,53,27,45];
const u2OrangeT=[5,13.3,31.7,48.3,63.3,78.3,91.7,105,109], u2Orange=[67,47,82,45,84,45,77,43,58];
const u3BlueT=[8.3,16.7,26.7,36.7,46.7,58.3,70,81.7,93.3,105], u3Blue=[57,95,37,95,38,95,37,97,38,85];
const u3OrangeT=[8.3,15,26.7,35,48.3,58.3,70,80,91.7,105], u3Orange=[38,70,22,73,22,73,22,73,22,63];
const i1BlueT=[11.7,20,30,39.3,51.7,66.7,75,81.7,93.3,110,115], i1Blue=[47,87,58,75,33,87,65,73,30,85,67];
const i1OrangeT=[10,20,31.7,39.3,48.3,70,80,96.7,113.3], i1Orange=[73,25,53,43,70,27,47,80,27];
const i2BlueT=[6.7,18.3,33.3,46.7,63.3,78.3,90,103.3,109], i2Blue=[47,30,60,30,62,30,57,27,47];
const i2OrangeT=[6.7,18.3,35,45,60,71.7,80,90,108.3], i2Orange=[80,62,80,37,85,60,70,33,83];
const i3BlueT=[5.7,10,21.7,35,48.3,61.7,75,88.3,101.7,108.3], i3Blue=[53,82,27,82,25,82,25,83,25,43];
const i3OrangeT=[5,15,26.7,40,53.3,68.3,83.3,96.7,106.7], i3Orange=[45,53,30,68,30,70,30,53,30];

/* ================= BUILD ================= */
const data = [];
const layout = {
  width: W, height: H, margin: {l:0,r:0,t:0,b:0},
  paper_bgcolor: '#ffffff', plot_bgcolor: 'rgba(0,0,0,0)',
  showlegend: false, font: {family: FONT, color: '#222'},
  shapes: [], annotations: []
};
const aid = n => (n === 1 ? '' : String(n));
function addAxes(n, xdom, ydom, xo, yo) {
  layout['xaxis' + aid(n)] = Object.assign({domain: xdom, anchor: 'y' + aid(n), fixedrange: true}, xo);
  layout['yaxis' + aid(n)] = Object.assign({domain: ydom, anchor: 'x' + aid(n), fixedrange: true}, yo);
}
const domX = (a, b) => [fx(a), fx(b)];
const domY = (top, bottom) => [fy(bottom), fy(top)];
const hidden = {visible: false, showgrid: false, zeroline: false};

function pathPx(s) {
  return s.replace(/(-?\d+(?:\.\d+)?),(-?\d+(?:\.\d+)?)/g, (m, a, b) => fx(+a).toFixed(5) + ',' + fy(+b).toFixed(5));
}
function shapePath(p, fill, lineColor, lineWidth) {
  layout.shapes.push({type: 'path', xref: 'paper', yref: 'paper', path: pathPx(p),
    fillcolor: fill || 'rgba(0,0,0,0)', line: {color: lineColor || 'rgba(0,0,0,0)', width: lineWidth || 0}});
}
function rectPx(x0, y0, x1, y1, fill, lineColor, lw) {
  layout.shapes.push({type: 'rect', xref: 'paper', yref: 'paper', x0: fx(x0), x1: fx(x1), y0: fy(y1), y1: fy(y0),
    fillcolor: fill || 'rgba(0,0,0,0)', line: {color: lineColor || 'rgba(0,0,0,0)', width: lw || 0}});
}
function circlePx(cx, cy, r, fill) {
  layout.shapes.push({type: 'circle', xref: 'paper', yref: 'paper', x0: fx(cx - r), x1: fx(cx + r), y0: fy(cy + r), y1: fy(cy - r),
    fillcolor: fill, line: {color: '#333', width: 1}});
}
function ann(text, x, y, o) {
  o = o || {};
  layout.annotations.push({text: text, x: fx(x), y: fy(y), xref: 'paper', yref: 'paper', showarrow: false,
    xanchor: o.xa || 'center', yanchor: o.ya || 'middle', align: o.align || 'left', textangle: o.angle || 0,
    font: {family: FONT, size: o.size || 14, color: o.color || '#222'}});
}
function rrect(x0, y0, x1, y1, r) {
  return `M${x0+r},${y0} L${x1-r},${y0} Q${x1},${y0} ${x1},${y0+r} L${x1},${y1-r} Q${x1},${y1} ${x1-r},${y1} L${x0+r},${y1} Q${x0},${y1} ${x0},${y1-r} L${x0},${y0+r} Q${x0},${y0} ${x0+r},${y0} Z`;
}

/* ---------- figure frame ---------- */
rectPx(9, 8, 1262, 985, null, '#a0a0a0', 1);

/* ---------- PANEL B ---------- */
const lx = [], ly = [], mx = [], my = [];
hostRows.forEach((segs, i) => {
  const r = i + 1;
  segs.forEach(s => {
    lx.push(s[0], s[1], null); ly.push(r, r, null);
    mx.push(s[0]); my.push(r);
    if (s[1] !== s[0]) { mx.push(s[1]); my.push(r); }
  });
});
const hostIdx = hostRows.map((_, i) => i + 1);
addAxes(1, domX(54.3, 501), domY(515.7, 899), {
  range: [1999.72, 2014.37], tickmode: 'array', tickvals: yearTicks, ticktext: yearTicks.map(String),
  tickangle: -45, tickfont: {family: FONT, size: 15.5, color: '#555'}, ticks: 'outside', ticklen: 4, tickcolor: '#444',
  showgrid: true, gridcolor: '#e6e6e6', gridwidth: 1, zeroline: false, showline: true, mirror: true, linecolor: '#b5b5b5', linewidth: 1,
  minor: {tickmode: 'linear', tick0: 2000.5, dtick: 1, showgrid: true, gridcolor: '#f3f3f3', gridwidth: 0.7, ticks: ''}
}, {
  range: [56.6, 0.4], tickmode: 'array', tickvals: hostIdx, showticklabels: false, ticks: '',
  showgrid: true, gridcolor: '#ececec', gridwidth: 0.6, zeroline: false, showline: true, mirror: true, linecolor: '#b5b5b5', linewidth: 1
});
data.push({type: 'scatter', mode: 'lines', x: lx, y: ly, xaxis: 'x', yaxis: 'y', line: {color: '#000', width: 4.8}, hoverinfo: 'skip', connectgaps: false});
data.push({type: 'scatter', mode: 'markers', x: mx, y: my, xaxis: 'x', yaxis: 'y', marker: {color: '#000', size: 7}, hoverinfo: 'skip'});
ann('host', 35, 706, {size: 20, angle: -90, color: '#1a1a1a'});
ann('sample collection date', 277, 960, {size: 20, color: '#1a1a1a'});
ann('<b>B</b>', 33, 515, {size: 24, color: '#000'});

/* ---------- PANEL C ---------- */
hostNames.forEach((name, k) => {
  const col = k % 14, row = Math.floor(k / 14);
  const x0 = 552.3 + col * 50.05, x1 = x0 + 46.4;
  const y0 = 524.3 + row * 102.35, y1 = y0 + 84;
  const n = 2 + k;
  addAxes(n, domX(x0, x1), domY(y0, y1), Object.assign({range: [0, 9]}, hidden), Object.assign({range: [0, 100]}, hidden));
  taxaData.forEach((arr, t) => {
    data.push({type: 'scatter', mode: 'lines', x: sampleIndex, y: arr[k], stackgroup: 'g' + k, groupnorm: 'percent',
      line: {width: 0, color: taxaColors[t]}, fillcolor: taxaColors[t], xaxis: 'x' + n, yaxis: 'y' + n, hoverinfo: 'skip'});
  });
  ann('<b>' + name + '</b>', (x0 + x1) / 2, y0 - 8, {size: 15, color: '#000'});
});
ann('<b>C</b>', 533, 515, {size: 24, color: '#000'});
legendOrder.forEach((t, i) => {
  const cx = [559, 718, 868, 1026, 1156][Math.floor(i / 2)];
  const cy = [926, 950][i % 2];
  rectPx(cx, cy, cx + 22, cy + 22, taxaColors[t], 'rgba(255,255,255,0.6)', 0.5);
  ann(taxaNames[t], cx + 30, cy + 11, {xa: 'left', size: 14.5, color: '#333'});
});

/* ---------- PANEL A ---------- */
ann('<b>A</b>', 33, 35, {size: 24, color: '#000'});
// left flow chevrons
shapePath('M47,53 L128,65 L208,53 L208,148 L128,162 L47,148 Z', '#000');
shapePath('M47,157 L128,172 L208,157 L208,335 L128,352 L47,335 Z', '#000');
shapePath('M47,346 L128,366 L208,346 L208,491 L47,491 Z', '#000');
ann('<b>Characterize<br>taxonomic<br>abundances in<br>each sample</b>', 53, 72, {xa: 'left', ya: 'top', size: 14.2, color: '#fff'});
ann('<b>Infer abundance<br>trajectories for each<br>taxon in each host.<br>Use trajectories to<br>estimate<br>covariances<br>between pairs of<br>taxa in each host</b>', 53, 177, {xa: 'left', ya: 'top', size: 14.2, color: '#fff'});
ann('<b>Convert<br>covariances to<br>correlations and<br>compare correlation<br>patterns across all<br>hosts.</b>', 53, 370, {xa: 'left', ya: 'top', size: 14.2, color: '#fff'});

// rounded frames and titles
shapePath(rrect(222.5, 34, 737, 491.5, 36), null, '#3a3a3a', 1.6);
shapePath(rrect(746.5, 34, 1228, 492, 36), null, '#3a3a3a', 1.6);
rectPx(288, 43, 686, 74, '#000');
rectPx(843, 43, 1135, 74, '#000');
ann('<b>Consistent (“universal”) relationships</b>', 487, 59, {size: 19.5, color: '#fff'});
ann('<b>Individualized relationships</b>', 989, 59, {size: 19.5, color: '#fff'});

// side texts
ann('Colored circles<br>are common<br>bacterial taxa in<br>each baboon’s<br>microbiome', 239, 89, {xa: 'left', ya: 'top', size: 14.2});
ann('The blue and<br>orange taxa<br>positively<br>covary in all<br>hosts', 237, 235, {xa: 'left', ya: 'top', size: 14.2});
ann('Correlations<br>between taxa<br>are similar<br>across all<br>hosts', 239, 382, {xa: 'left', ya: 'top', size: 14.2});
ann('The blue and<br>orange taxa<br>have different<br>covariance<br>patterns in<br>each host', 756, 229, {xa: 'left', ya: 'top', size: 14.2});
ann('Correlations<br>between taxa<br>are different<br>in each host', 758, 389, {xa: 'left', ya: 'top', size: 14.2});

// baboon silhouettes
const walkBody = [[19,15],[32,13],[47,10],[60,7],[68,4],[73,0],[79,1],[83,6],[88,10],[87,15],[81,17],[74,20],[70,26],[67,35],[65,52],[64,73],[68,77],[58,77],[56,57],[52,47],[50,59],[52,75],[45,76],[43,57],[40,48],[30,50],[22,49],[27,65],[36,75],[35,78],[25,77],[18,65],[14,55],[11,65],[8,75],[10,78],[0,77],[4,65],[8,47],[12,32],[15,20]];
const sit2Body = [[43,1],[51,2],[58,7],[63,13],[64,19],[59,23],[61,30],[68,43],[75,58],[83,70],[87,78],[75,80],[63,82],[48,83],[33,82],[18,81],[8,80],[1,79],[3,76],[13,75],[17,66],[18,48],[23,33],[30,25],[33,18],[35,8]];
const sit3Body = [[32,0],[40,1],[46,6],[49,14],[48,22],[56,26],[64,33],[70,48],[73,63],[75,73],[87,75],[99,76],[99,79],[77,80],[62,81],[42,82],[22,82],[7,81],[0,79],[4,72],[12,63],[17,53],[22,43],[24,34],[20,27],[22,20],[21,12],[25,4]];
function poly(pts, ox, oy) { return 'M' + pts.map(p => (ox + p[0]) + ',' + (oy + p[1])).join(' L') + ' Z'; }
[[388, 93], [878, 93]].forEach(o => {
  shapePath(poly(walkBody, o[0], o[1]), '#000');
  shapePath(`M${o[0]+16},${o[1]+19} Q${o[0]+3},${o[1]+4} ${o[0]+3},${o[1]+24} L${o[0]+2},${o[1]+38}`, null, '#000', 3.5);
});
[[497, 92], [990, 92]].forEach(o => shapePath(poly(sit2Body, o[0], o[1]), '#000'));
[[628, 92], [1123, 92]].forEach(o => shapePath(poly(sit3Body, o[0], o[1]), '#000'));
ann('<b>Host 1</b>', 432, 125, {size: 12.5, color: '#fff'});
ann('<b>Host 1</b>', 923, 125, {size: 12.5, color: '#fff'});
[[540, 'Host', '2'], [674, 'Host', '3'], [1032, 'Host', '2'], [1167, 'Host', '3']].forEach(h => {
  ann('<b>' + h[1] + '</b>', h[0], 137, {size: 12.5, color: '#fff'});
  ann('<b>' + h[2] + '</b>', h[0], 153, {size: 12.5, color: '#fff'});
});
// taxa circles beside hosts
[371, 499, 620, 862, 991, 1110].forEach(cx => {
  [107, 120.5, 134, 147.5, 161].forEach((cy, j) => circlePx(cx, cy, 5, circleColors[j]));
});

// trajectory mini-plots
const curveDefs = [
  [370, u1BlueT, u1Blue, u1OrangeT, u1Orange], [495, u2BlueT, u2Blue, u2OrangeT, u2Orange], [615, u3BlueT, u3Blue, u3OrangeT, u3Orange],
  [860, i1BlueT, i1Blue, i1OrangeT, i1Orange], [985, i2BlueT, i2Blue, i2OrangeT, i2Orange], [1105, i3BlueT, i3Blue, i3OrangeT, i3Orange]];
curveDefs.forEach((c, i) => {
  const n = 58 + i;
  addAxes(n, domX(c[0], c[0] + 120), domY(190, 290), Object.assign({range: [0, 120]}, hidden), Object.assign({range: [0, 100]}, hidden));
  data.push({type: 'scatter', mode: 'lines', x: c[3], y: c[4], line: {color: '#f0843f', width: 3, shape: 'spline', smoothing: 1}, xaxis: 'x' + n, yaxis: 'y' + n, hoverinfo: 'skip', cliponaxis: false});
  data.push({type: 'scatter', mode: 'lines', x: c[1], y: c[2], line: {color: '#1f40ff', width: 3, shape: 'spline', smoothing: 1}, xaxis: 'x' + n, yaxis: 'y' + n, hoverinfo: 'skip', cliponaxis: false});
});
// axis lines of the mini-plots
shapePath('M370,198 L370,280 L485,280', null, '#222', 2);
shapePath('M500,282 L603,282', null, '#222', 2);
shapePath('M618,282 L727,282', null, '#222', 2);
shapePath('M862,197 L862,280 L977,280', null, '#222', 2);
shapePath('M990,282 L1095,282', null, '#222', 2);
shapePath('M1110,282 L1213,282', null, '#222', 2);
ann('Abundance', 352, 240, {size: 14, angle: -90});
ann('Time', 555, 296, {size: 15});
ann('Time', 1047, 296, {size: 15});

// covariance matrices
const XB = '<span style="color:#2f52ff">X</span>', YO = '<span style="color:#f08a40">Y</span>';
[383, 505, 628, 872, 995, 1119].forEach(x0 => {
  const x1 = x0 + 96;
  shapePath(`M${x0+6},310 L${x0},310 L${x0},355 L${x0+6},355`, null, '#222', 2);
  shapePath(`M${x1-6},310 L${x1},310 L${x1},355 L${x1-6},355`, null, '#222', 2);
  const o = {size: 10.5, color: '#6a6a6a'};
  ann('<i>Var(' + XB + ')</i>', x0 + 19, 325, o);
  ann('<i>Cov(' + XB + ', ' + YO + ')</i>', x0 + 67, 325, o);
  ann('<i>Cov(' + XB + ',' + YO + ')</i>', x0 + 23, 342, o);
  ann('<i>Var(' + YO + ')</i>', x0 + 75, 342, o);
});

// correlation heatmaps (axes extended to hold the taxon circles above and to the left)
const heatDefs = [[403, 482, corrUniversal], [520, 599, corrUniversal], [640, 718, corrUniversal],
                  [880, 960, corrIndiv1], [1008, 1087, corrIndiv2], [1132, 1210, corrIndiv3]];
const idx5 = [0, 1, 2, 3, 4];
heatDefs.forEach((h, i) => {
  const n = 64 + i;
  const cw = (h[1] - h[0]) / 5, ch = 78.3 / 5;
  addAxes(n, domX(h[0] - 1.1 * cw, h[1]), domY(390 - 1.0 * ch, 468.3),
    Object.assign({range: [-1.6, 4.5]}, hidden), Object.assign({range: [4.5, -1.5]}, hidden));
  const zc = h[2].map((r, a) => r.map((v, b) => (a === b ? null : v)));
  const zd = h[2].map((r, a) => r.map((v, b) => (a === b ? 1 : null)));
  const hm = {type: 'heatmap', z: zc, x: idx5, y: idx5, zmin: -1, zmax: 1,
    colorscale: [[0, '#0020ff'], [0.5, '#ffffff'], [1, '#ff0000']], showscale: false,
    xaxis: 'x' + n, yaxis: 'y' + n, hoverinfo: 'skip'};
  if (i === 0) {
    hm.showscale = true;
    hm.colorbar = {x: fx(342), xanchor: 'left', y: fy(430), yanchor: 'middle', len: 80, lenmode: 'pixels',
      thickness: 14, thicknessmode: 'pixels', showticklabels: false, ticks: '', outlinecolor: '#5b79c9', outlinewidth: 1.5, xpad: 0, ypad: 0};
  }
  data.push(hm);
  data.push({type: 'heatmap', z: zd, x: idx5, y: idx5, zmin: 0, zmax: 1, colorscale: [[0, '#000'], [1, '#000']], showscale: false,
    xaxis: 'x' + n, yaxis: 'y' + n, hoverinfo: 'skip'});
  data.push({type: 'scatter', mode: 'markers', x: idx5, y: idx5.map(() => -1.05),
    marker: {size: 10, color: circleColors, line: {color: '#333', width: 1}}, xaxis: 'x' + n, yaxis: 'y' + n, hoverinfo: 'skip'});
  data.push({type: 'scatter', mode: 'markers', x: idx5.map(() => -1.2), y: idx5,
    marker: {size: 10, color: circleColors, line: {color: '#333', width: 1}}, xaxis: 'x' + n, yaxis: 'y' + n, hoverinfo: 'skip'});
});
ann('+', 368, 400, {size: 24, color: '#111'});
ann('-', 368, 455, {size: 24, color: '#111'});

Plotly.newPlot('chart', data, layout, {staticPlot: true, displayModeBar: false});
</script>
</body></html>
